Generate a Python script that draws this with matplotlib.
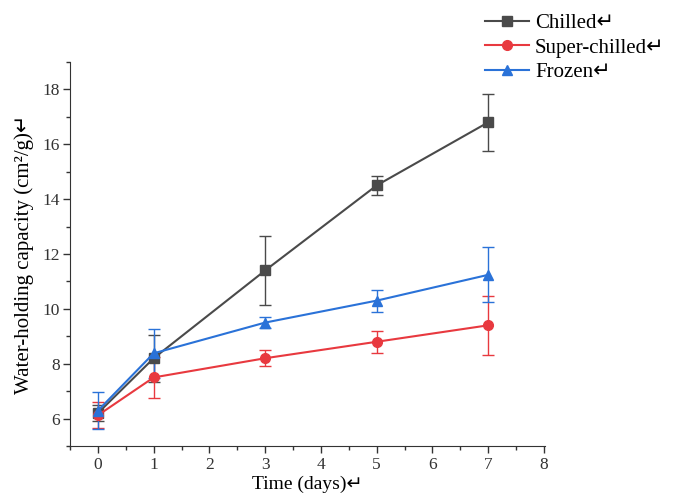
import numpy as np
import matplotlib.pyplot as plt
from matplotlib.lines import Line2D
from matplotlib.ticker import MultipleLocator

days = [0, 1, 3, 5, 7]

chilled = [6.2, 8.2, 11.4, 14.5, 16.8]
chilled_err = [0.3, 0.85, 1.25, 0.35, 1.05]

super_chilled = [6.12, 7.5, 8.2, 8.8, 9.4]
super_chilled_err = [0.47, 0.76, 0.3, 0.4, 1.07]

frozen = [6.29, 8.38, 9.5, 10.3, 11.24]
frozen_err = [0.67, 0.9, 0.2, 0.4, 1.0]

plt.rcParams['font.family'] = ['Liberation Serif', 'DejaVu Sans']

fig = plt.figure(figsize=(6.76, 4.93), dpi=100)
ax = fig.add_axes([0.1036, 0.0953, 0.7027, 0.779])

series = [
  ('Chilled\u21b5', chilled, chilled_err, '#4a4a4a', 's'),
  ('Super-chilled\u21b5', super_chilled, super_chilled_err, '#e8393f', 'o'),
  ('Frozen\u21b5', frozen, frozen_err, '#2a72d8', '^'),
]
handles = []
for label, vals, err, color, marker in series:
  ax.errorbar(days, vals, yerr=err, color=color, marker=marker, markersize=7,
              lw=1.5, capsize=4, elinewidth=1.0, capthick=1.0, ecolor=color)
  handles.append(Line2D([], [], color=color, marker=marker, markersize=7,
                        lw=1.5, label=label))

ax.set_xlim(-0.5, 8.02)
ax.set_ylim(5.0, 19.0)
ax.xaxis.set_major_locator(MultipleLocator(1))
ax.xaxis.set_minor_locator(MultipleLocator(0.5))
ax.yaxis.set_major_locator(MultipleLocator(2))
ax.yaxis.set_minor_locator(MultipleLocator(1))
ax.tick_params(which='major', direction='out', length=5, width=1, labelsize=12.5,
               colors='#333333', pad=3)
ax.tick_params(axis='y', which='major', pad=2)
ax.tick_params(which='minor', direction='out', length=3, width=1, colors='#333333')
ax.spines['top'].set_visible(False)
ax.spines['right'].set_visible(False)
for s in ['left', 'bottom']:
  ax.spines[s].set_color('#333333')

ax.set_xlabel('Time (days)\u21b5', fontsize=14, labelpad=2)
ax.set_ylabel('Water-holding capacity (cm\u00b2/g)\u21b5', fontsize=15, labelpad=6)

leg = fig.legend(handles=handles, loc='upper left', bbox_to_anchor=(0.705, 0.99),
                 frameon=False, fontsize=15, handlelength=2.1, labelspacing=0.25,
                 borderaxespad=0, handletextpad=0.3)

fig.savefig('out.png', dpi=100)
